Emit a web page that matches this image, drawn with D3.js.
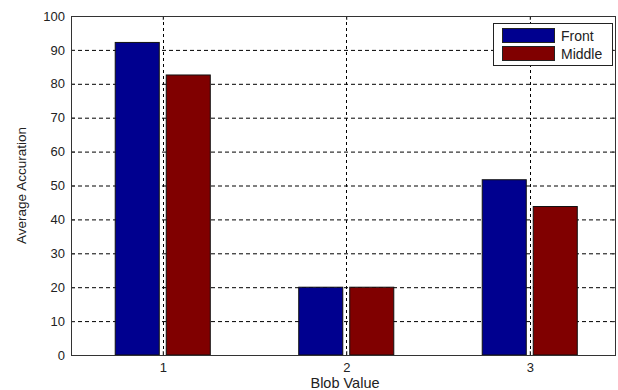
<!DOCTYPE html>
<html>
<head>
<meta charset="utf-8">
<script src="https://cdn.jsdelivr.net/npm/d3@7"></script>
<style>
  body { margin: 0; background: #fff; }
  text { font-family: "Liberation Sans", Arial, sans-serif; fill: #222; }
</style>
</head>
<body>
<div id="chart"></div>
<script>
// data
const categories = [1, 2, 3];
const front = [92.2, 20, 51.7];
const middle = [82.6, 20, 43.8];
const seriesNames = ["Front", "Middle"];
const seriesColors = ["#00008f", "#800000"];
const yTicks = [0, 10, 20, 30, 40, 50, 60, 70, 80, 90, 100];

const W = 618, H = 390;
const margin = { top: 16, right: 2, bottom: 35, left: 71 },
      width = W - margin.left - margin.right,
      height = H - margin.top - margin.bottom;

const svg = d3.select("#chart").append("svg")
    .attr("width", W)
    .attr("height", H);

const g = svg.append("g")
    .attr("transform", `translate(${margin.left},${margin.top})`);

const x = d3.scaleLinear().domain([0.5, 3.47]).range([0, width]);
const y = d3.scaleLinear().domain([0, 100]).range([height, 0]);

// bar offsets in data units
const barW = 0.24, off = 0.139;

// grid lines
g.append("g").selectAll("line.hg")
    .data(yTicks.slice(1, -1))
    .enter().append("line")
    .attr("x1", 0).attr("x2", width)
    .attr("y1", d => y(d) + 0.5).attr("y2", d => y(d) + 0.5)
    .attr("stroke", "#000")
    .attr("stroke-dasharray", "4,3");

g.append("g").selectAll("line.vg")
    .data(categories)
    .enter().append("line")
    .attr("x1", d => Math.round(x(d)) + 0.5).attr("x2", d => Math.round(x(d)) + 0.5)
    .attr("y1", 0).attr("y2", height)
    .attr("stroke", "#000")
    .attr("stroke-dasharray", "3,3");

// bars
const series = [front, middle];
series.forEach((vals, si) => {
    g.append("g").selectAll("rect")
        .data(vals.map((v, i) => ({ c: categories[i], v })))
        .enter().append("rect")
        .attr("x", d => x(d.c + (si === 0 ? -off : off) - barW / 2))
        .attr("width", d => x(barW) - x(0))
        .attr("y", d => y(d.v))
        .attr("height", d => height - y(d.v))
        .attr("fill", seriesColors[si])
        .attr("stroke", "#111")
        .attr("stroke-width", 1);
});

// axes box
g.append("rect")
    .attr("x", 0.5).attr("y", 0.5)
    .attr("width", width - 1).attr("height", height)
    .attr("fill", "none")
    .attr("stroke", "#333");

// left axis
g.append("g")
    .call(d3.axisLeft(y).tickValues(yTicks).tickSize(-4).tickPadding(6))
    .call(a => a.select(".domain").remove())
    .call(a => a.selectAll("line").attr("stroke", "#333"))
    .call(a => a.selectAll("text").style("font-size", "13px").attr("fill", "#222"));

// right ticks
g.append("g")
    .attr("transform", `translate(${width},0)`)
    .call(d3.axisRight(y).tickValues(yTicks).tickSize(-4).tickFormat(""))
    .call(a => a.select(".domain").remove())
    .call(a => a.selectAll("line").attr("stroke", "#333"));

// bottom axis
g.append("g")
    .attr("transform", `translate(0,${height})`)
    .call(d3.axisBottom(x).tickValues(categories).tickSize(-4).tickPadding(8).tickFormat(d3.format("d")))
    .call(a => a.select(".domain").remove())
    .call(a => a.selectAll("line").attr("stroke", "#333"))
    .call(a => a.selectAll("text").style("font-size", "13px").attr("fill", "#222"));

// top ticks
g.append("g")
    .call(d3.axisTop(x).tickValues(categories).tickSize(-4).tickFormat(""))
    .call(a => a.select(".domain").remove())
    .call(a => a.selectAll("line").attr("stroke", "#333"));

// axis labels
svg.append("text")
    .attr("text-anchor", "middle")
    .attr("transform", `translate(26,${margin.top + height / 2}) rotate(-90)`)
    .style("font-size", "13.5px")
    .text("Average Accuration");

svg.append("text")
    .attr("text-anchor", "middle")
    .attr("x", 345)
    .attr("y", 388)
    .style("font-size", "14.5px")
    .text("Blob Value");

// legend
const lg = svg.append("g").attr("transform", "translate(493,23)");
lg.append("rect")
    .attr("x", 0.5).attr("y", 0.5)
    .attr("width", 119).attr("height", 42)
    .attr("fill", "#fff")
    .attr("stroke", "#222");
seriesNames.forEach((name, i) => {
    lg.append("rect")
        .attr("x", 9.5).attr("y", 5.5 + i * 18)
        .attr("width", 52).attr("height", 14)
        .attr("fill", seriesColors[i])
        .attr("stroke", "#222");
    lg.append("text")
        .attr("x", 68).attr("y", 17.5 + i * 18)
        .style("font-size", "14px")
        .text(name);
});
</script>
</body>
</html>
